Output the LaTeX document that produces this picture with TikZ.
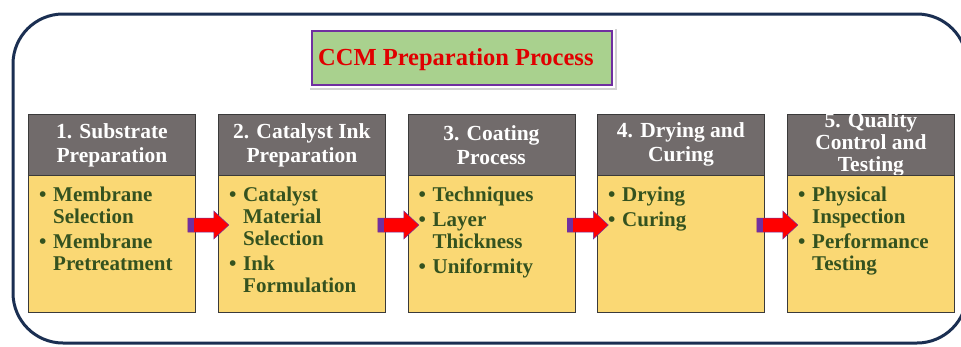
\documentclass[tikz,border=0pt]{standalone}
\usepackage{fontspec}
\setmainfont{Liberation Serif}
\usetikzlibrary{shadows,calc}
\definecolor{framecol}{HTML}{1B2F52}
\definecolor{hdrgray}{HTML}{716B6B}
\definecolor{bodyyel}{HTML}{FAD874}
\definecolor{bodytxt}{HTML}{34521F}
\definecolor{titlegreen}{HTML}{A9D18E}
\definecolor{titlepurple}{HTML}{7030A0}
\definecolor{titlered}{HTML}{E00000}
\definecolor{arrred}{HTML}{FF0000}
\definecolor{arrpurple}{HTML}{7030A0}
\definecolor{boxline}{HTML}{3A3A3A}
\newcommand{\itm}[1]{\strut\makebox[14pt][l]{\textbullet}#1}
\newcommand{\cnt}[1]{\hspace*{14pt}#1}
\tikzset{
  hdrbox/.style={draw=boxline, line width=0.8pt, fill=hdrgray, minimum width=167pt, minimum height=61pt, inner sep=0pt, anchor=north west},
  bodybox/.style={draw=boxline, line width=0.8pt, fill=bodyyel, minimum width=167pt, minimum height=136.5pt, inner sep=0pt, anchor=north west},
  hdrtext/.style={text=white, font=\fontsize{21.5}{24}\selectfont\bfseries, align=center, inner sep=0pt},
  bodytext/.style={text=bodytxt, font=\fontsize{21}{22}\selectfont\bfseries, align=left, inner sep=0pt, anchor=north west},
  blockarrow/.style={fill=arrred, draw=arrpurple, line width=0.5pt, line join=miter},
}
\begin{document}
\begin{tikzpicture}[x=1pt,y=-1pt]
\useasboundingbox (0,0) rectangle (961,346);
\begin{scope}
\clip (0,0) rectangle (961,346);
\draw[framecol, line width=3pt, rounded corners=50pt] (13,14) rectangle (967,343);
\end{scope}
% title
\node[fill=white, minimum width=307pt, minimum height=61pt, inner sep=0pt, anchor=north west,
      drop shadow={opacity=0.35, shadow xshift=1.5pt, shadow yshift=-1.5pt}] (tb) at (308,27) {};
\node[fill=titlegreen, draw=titlepurple, line width=1.6pt, minimum width=300pt, minimum height=54pt, inner sep=0pt] (ti) at (tb.center) {};
\node[anchor=base west, inner sep=0pt, text=titlered, font=\fontsize{24.5}{28}\selectfont\bfseries] (tt) at (318,65) {CCM Preparation Process};
% boxes
\foreach \i/\x in {1/28,2/218,3/407.5,4/597,5/787}{
  \node[hdrbox] (h\i) at (\x,114) {};
}
\node[hdrtext] (ht1) at (h1.center) {1. Substrate\\Preparation};
\node[hdrtext] (ht2) at (h2.center) {2. Catalyst Ink\\Preparation};
\node[hdrtext] (ht3) at (h3.center) {3. Coating\\Process};
\node[hdrtext] (ht4) at (h4.center) {4. Drying and\\Curing};
\begin{scope}
\clip (h5.north west) rectangle (h5.south east);
\node[hdrtext, font=\fontsize{21.5}{22}\selectfont\bfseries] (ht5) at (h5.center) {5. Quality\\Control and\\Testing};
\end{scope}
\foreach \i/\x in {1/28,2/218,3/407.5,4/597,5/787}{
  \node[bodybox] (b\i) at (\x,175) {};
}
\node[bodytext] (bt1) at ($(b1.north west)+(11,11)$) {\itm{Membrane}\\\cnt{Selection}\\[3pt]\itm{Membrane}\\\cnt{Pretreatment}};
\node[bodytext] (bt2) at ($(b2.north west)+(11,11)$) {\itm{Catalyst}\\\cnt{Material}\\\cnt{Selection}\\[3pt]\itm{Ink}\\\cnt{Formulation}};
\node[bodytext] (bt3) at ($(b3.north west)+(11,11)$) {\itm{Techniques}\\[3pt]\itm{Layer}\\\cnt{Thickness}\\[3pt]\itm{Uniformity}};
\node[bodytext] (bt4) at ($(b4.north west)+(11,11)$) {\itm{Drying}\\[3pt]\itm{Curing}};
\node[bodytext] (bt5) at ($(b5.north west)+(11,11)$) {\itm{Physical}\\\cnt{Inspection}\\[3pt]\itm{Performance}\\\cnt{Testing}};
% arrows
\foreach \a/\b in {1/2,2/3,3/4,4/5}{
  \coordinate (t\a) at ($(b\a.north east)+(-8,50)$);
  \draw[blockarrow] (t\a) ++(0,-7) -- ++(26,0) -- ++(0,-7) -- ++(15,14) -- ++(-15,14) -- ++(0,-7) -- ++(-26,0) -- cycle;
  \fill[arrpurple] ($(t\a)+(0,-7)$) rectangle ($(t\a)+(6,7)$);
}
\end{tikzpicture}
\end{document}
